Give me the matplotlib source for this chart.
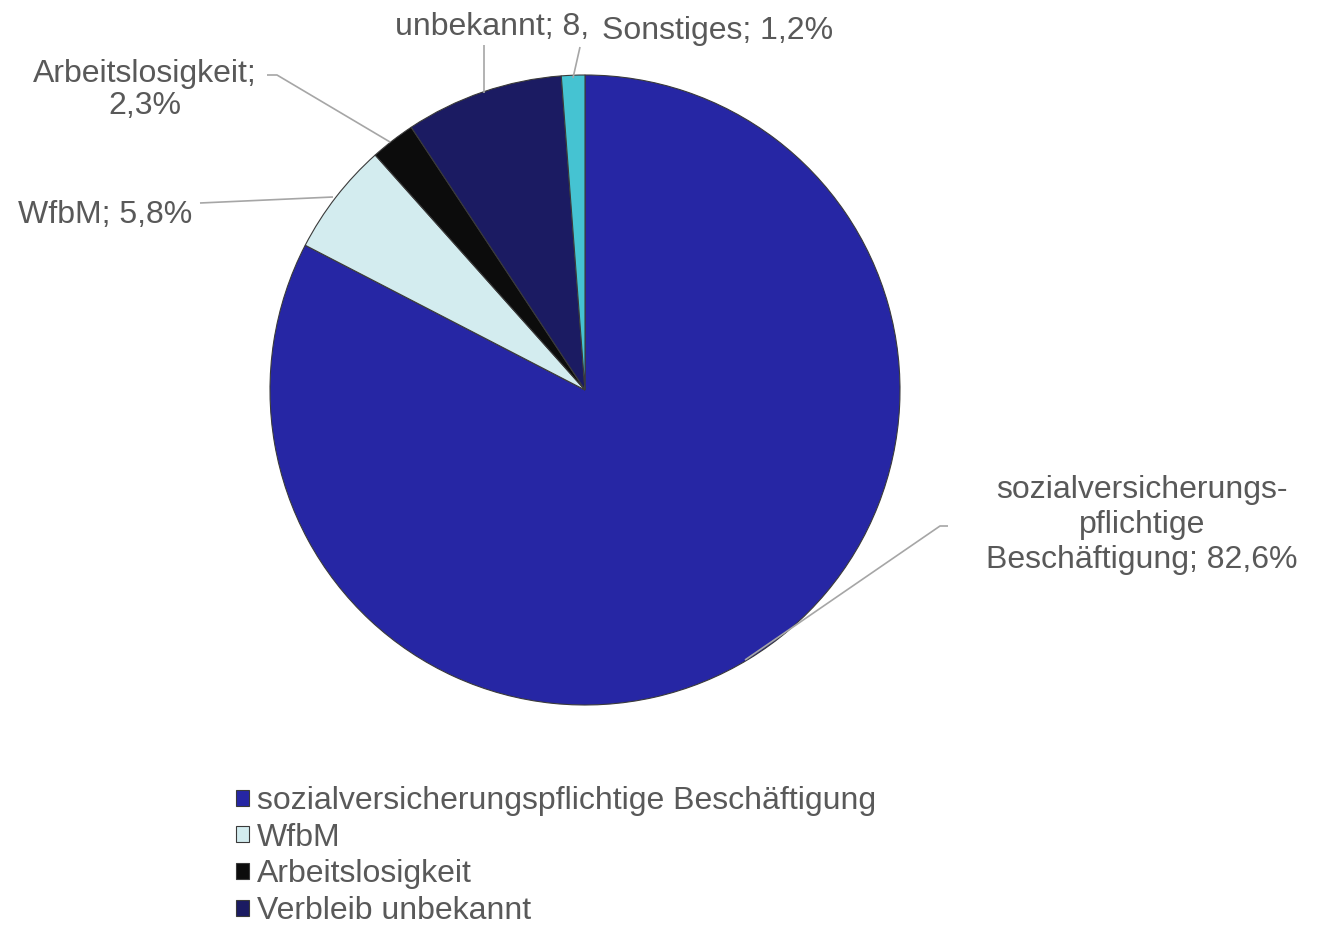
import matplotlib.pyplot as plt

# Verbleib nach Abschluss (Anteile in %)
kategorien = ['sozialversicherungspflichtige Beschäftigung', 'WfbM',
              'Arbeitslosigkeit', 'Verbleib unbekannt', 'Sonstiges']
anteile = [82.6, 5.8, 2.3, 8.1, 1.2]
farben = ['#2626A4', '#D3ECEF', '#0C0C0C', '#1B1B62', '#45C3D2']

plt.rcParams['font.family'] = ['Liberation Sans', 'DejaVu Sans']
grau = '#595959'
fs = 23

fig = plt.figure(figsize=(13.17, 9.27), dpi=100)
ax = fig.add_axes([0, 0, 1, 1])

H = 927
cx, cy, r = 585, H - 390, 315

wedges, _ = ax.pie(anteile, colors=farben, startangle=90, counterclock=False,
                   center=(cx, cy), radius=r, frame=True,
                   wedgeprops=dict(edgecolor='#3a3a3a', linewidth=0.8))
ax.set_xlim(0, 1317)
ax.set_ylim(0, 927)
ax.set_aspect('equal')
ax.axis('off')


def fmt(v):
    return f'{v:.1f}'.replace('.', ',') + '%'


def leader(pts):
    xs = [p[0] for p in pts]
    ys = [H - p[1] for p in pts]
    ax.plot(xs, ys, color='#a6a6a6', lw=1.2, solid_capstyle='butt', zorder=1)


# Datenbeschriftungen mit Führungslinien
ax.text(1142, H - 525, 'sozialversicherungs-\npflichtige\nBeschäftigung; ' + fmt(anteile[0]),
        ha='center', va='center', fontsize=fs, color=grau, linespacing=1.2)
leader([(948, 526), (940, 526), (745, 660)])

ax.text(18, H - 215, f'{kategorien[1]}; {fmt(anteile[1])}',
        ha='left', va='center', fontsize=fs, color=grau)
leader([(200, 203), (333, 197)])

ax.text(145, H - 90, f'{kategorien[2]};\n{fmt(anteile[2])}',
        ha='center', va='center', fontsize=fs, color=grau, linespacing=1.1)
leader([(267, 75), (277, 75), (390, 142)])

ax.text(492, H - 27, 'unbekannt; ' + fmt(anteile[3])[:2],
        ha='center', va='center', fontsize=fs, color=grau)
leader([(484, 45), (484, 93)])

ax.text(718, H - 31, f'{kategorien[4]}; {fmt(anteile[4])}',
        ha='center', va='center', fontsize=fs, color=grau)
leader([(580, 47), (573, 78)])

# Legende (erste vier Kategorien)
leg = ax.legend(wedges[:4], kategorien[:4], loc='upper left',
                bbox_to_anchor=(236 / 1317, 1 - 786 / 927),
                frameon=False, fontsize=fs, handlelength=0.4, handleheight=0.4,
                handletextpad=0.25, labelspacing=0.21, borderpad=0,
                borderaxespad=0)
for t in leg.get_texts():
    t.set_color(grau)

fig.savefig('out.png', dpi=100)
